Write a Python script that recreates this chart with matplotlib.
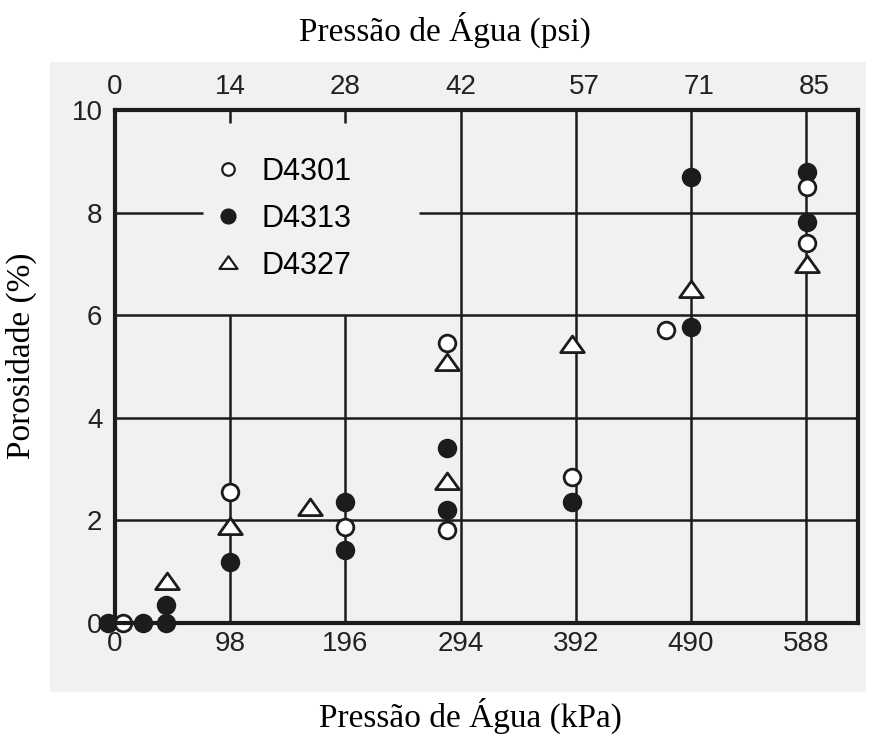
import matplotlib
matplotlib.use("Agg")
import matplotlib.pyplot as plt
from matplotlib.patches import Rectangle
from matplotlib.lines import Line2D
from matplotlib.path import Path

# valores (pressao em kPa, porosidade em %)
x_d4301 = [7, 98, 196, 282, 282, 389, 469, 589, 589]
y_d4301 = [0.0, 2.55, 1.87, 5.46, 1.81, 2.85, 5.71, 8.5, 7.4]

x_d4313 = [-6, 24, 43, 43, 98, 196, 196, 282, 282, 389, 490, 490, 589, 589]
y_d4313 = [0.0, 0.0, 0.0, 0.35, 1.19, 2.36, 1.42, 3.41, 2.2, 2.36, 8.7, 5.77, 8.79, 7.82]

x_d4327 = [44, 98, 166, 282, 282, 389, 490, 589]
y_d4327 = [0.8, 1.87, 2.24, 5.07, 2.75, 5.42, 6.49, 6.98]

kpa_ticks = [0, 98, 196, 294, 392, 490, 588]
psi_ticks = [0, 14, 28, 42, 57, 71, 85]
y_ticks = [0, 2, 4, 6, 8, 10]
labels = ["D4301", "D4313", "D4327"]

ink = "#1c1c1c"
paper = "#f1f1f1"
tri = Path([(0, 0.8), (-1, -0.6), (1, -0.6), (0, 0.8)], closed=True)

fig = plt.figure(figsize=(8.72, 7.40), dpi=100)
# area "escaneada" cinza clara
fig.patches.append(Rectangle((50 / 872, 48 / 740), 816 / 872, 630 / 740,
                             transform=fig.transFigure, facecolor=paper,
                             edgecolor="none", zorder=-5))
ax = fig.add_axes([115 / 872, 1 - 623 / 740, 743 / 872, 513 / 740])
ax.set_zorder(2)
ax.set_facecolor(paper)
ax.set_xlim(0, 632)
ax.set_ylim(0, 10)

# grade (com o espaco da legenda)
for yv in y_ticks[1:4]:
    ax.hlines(yv, 0, 632, color=ink, lw=1.8, zorder=1)
ax.hlines(8, 0, 75, color=ink, lw=1.8, zorder=1)
ax.hlines(8, 259, 632, color=ink, lw=1.8, zorder=1)
for xv in kpa_ticks[1:]:
    ax.vlines(xv, 0, 6 if xv < 250 else 10, color=ink, lw=1.8, zorder=1)

ms = 12
ax.plot(x_d4301, y_d4301, ls="none", marker="o", ms=ms, mfc="white",
        mec=ink, mew=2.0, clip_on=False, zorder=4)
ax.plot(x_d4313, y_d4313, ls="none", marker="o", ms=ms, mfc=ink,
        mec=ink, mew=2.0, clip_on=False, zorder=3)
ax.plot(x_d4327, y_d4327, ls="none", marker=tri, ms=17, mfc="white",
        mec=ink, mew=2.0, clip_on=False, zorder=5)

handles = [
    Line2D([], [], ls="none", marker="o", ms=9, mfc="white", mec=ink, mew=1.6),
    Line2D([], [], ls="none", marker="o", ms=10, mfc=ink, mec=ink, mew=1.6),
    Line2D([], [], ls="none", marker=tri, ms=13, mfc="white", mec=ink, mew=1.6),
]
ax.legend(handles, labels, loc="upper left", bbox_to_anchor=(0.095, 0.962),
          frameon=False, handlelength=1.0, handletextpad=0.6,
          labelspacing=0.55, prop={"family": "Liberation Sans", "size": 22})

for s in ax.spines.values():
    s.set_linewidth(3)
    s.set_color(ink)
    s.set_zorder(6)

sans = {"family": "Liberation Sans", "size": 20, "color": "#222222"}
serif = {"family": "Liberation Serif", "size": 24, "color": "black"}

ax.set_xticks(kpa_ticks)
ax.set_xticklabels([str(v) for v in kpa_ticks], fontdict=sans)
ax.set_yticks(y_ticks)
ax.set_yticklabels([str(v) for v in y_ticks], fontdict=sans)
ax.tick_params(axis="x", length=0, pad=6)
ax.tick_params(axis="y", length=0, pad=9)

top = ax.secondary_xaxis("top", functions=(lambda k: k / 7, lambda p: p * 7))
top.set_xticks(psi_ticks)
top.set_xticklabels([str(v) for v in psi_ticks], fontdict=sans)
top.tick_params(direction="in", length=9, width=1.8, color=ink, pad=7)
top.spines["top"].set_visible(False)
# so os tracos curtos de 14 e 28 psi aparecem (os outros caem na grade)
for i, t in enumerate(top.xaxis.get_major_ticks()):
    if i == 0 or i > 2:
        t.tick1line.set_visible(False)
        t.tick2line.set_visible(False)

ax.set_xlabel("Pressão de Água (kPa)", fontdict=serif)
ax.xaxis.set_label_coords(0.478, -0.145)
fig.text(445 / 872, 1 - 30 / 740, "Pressão de Água (psi)", ha="center",
         va="center", fontdict=serif)
ax.set_ylabel("Porosidade (%)", fontdict=serif)
ax.yaxis.set_label_coords(-0.105, 0.52)

fig.savefig("out.png", dpi=100)
